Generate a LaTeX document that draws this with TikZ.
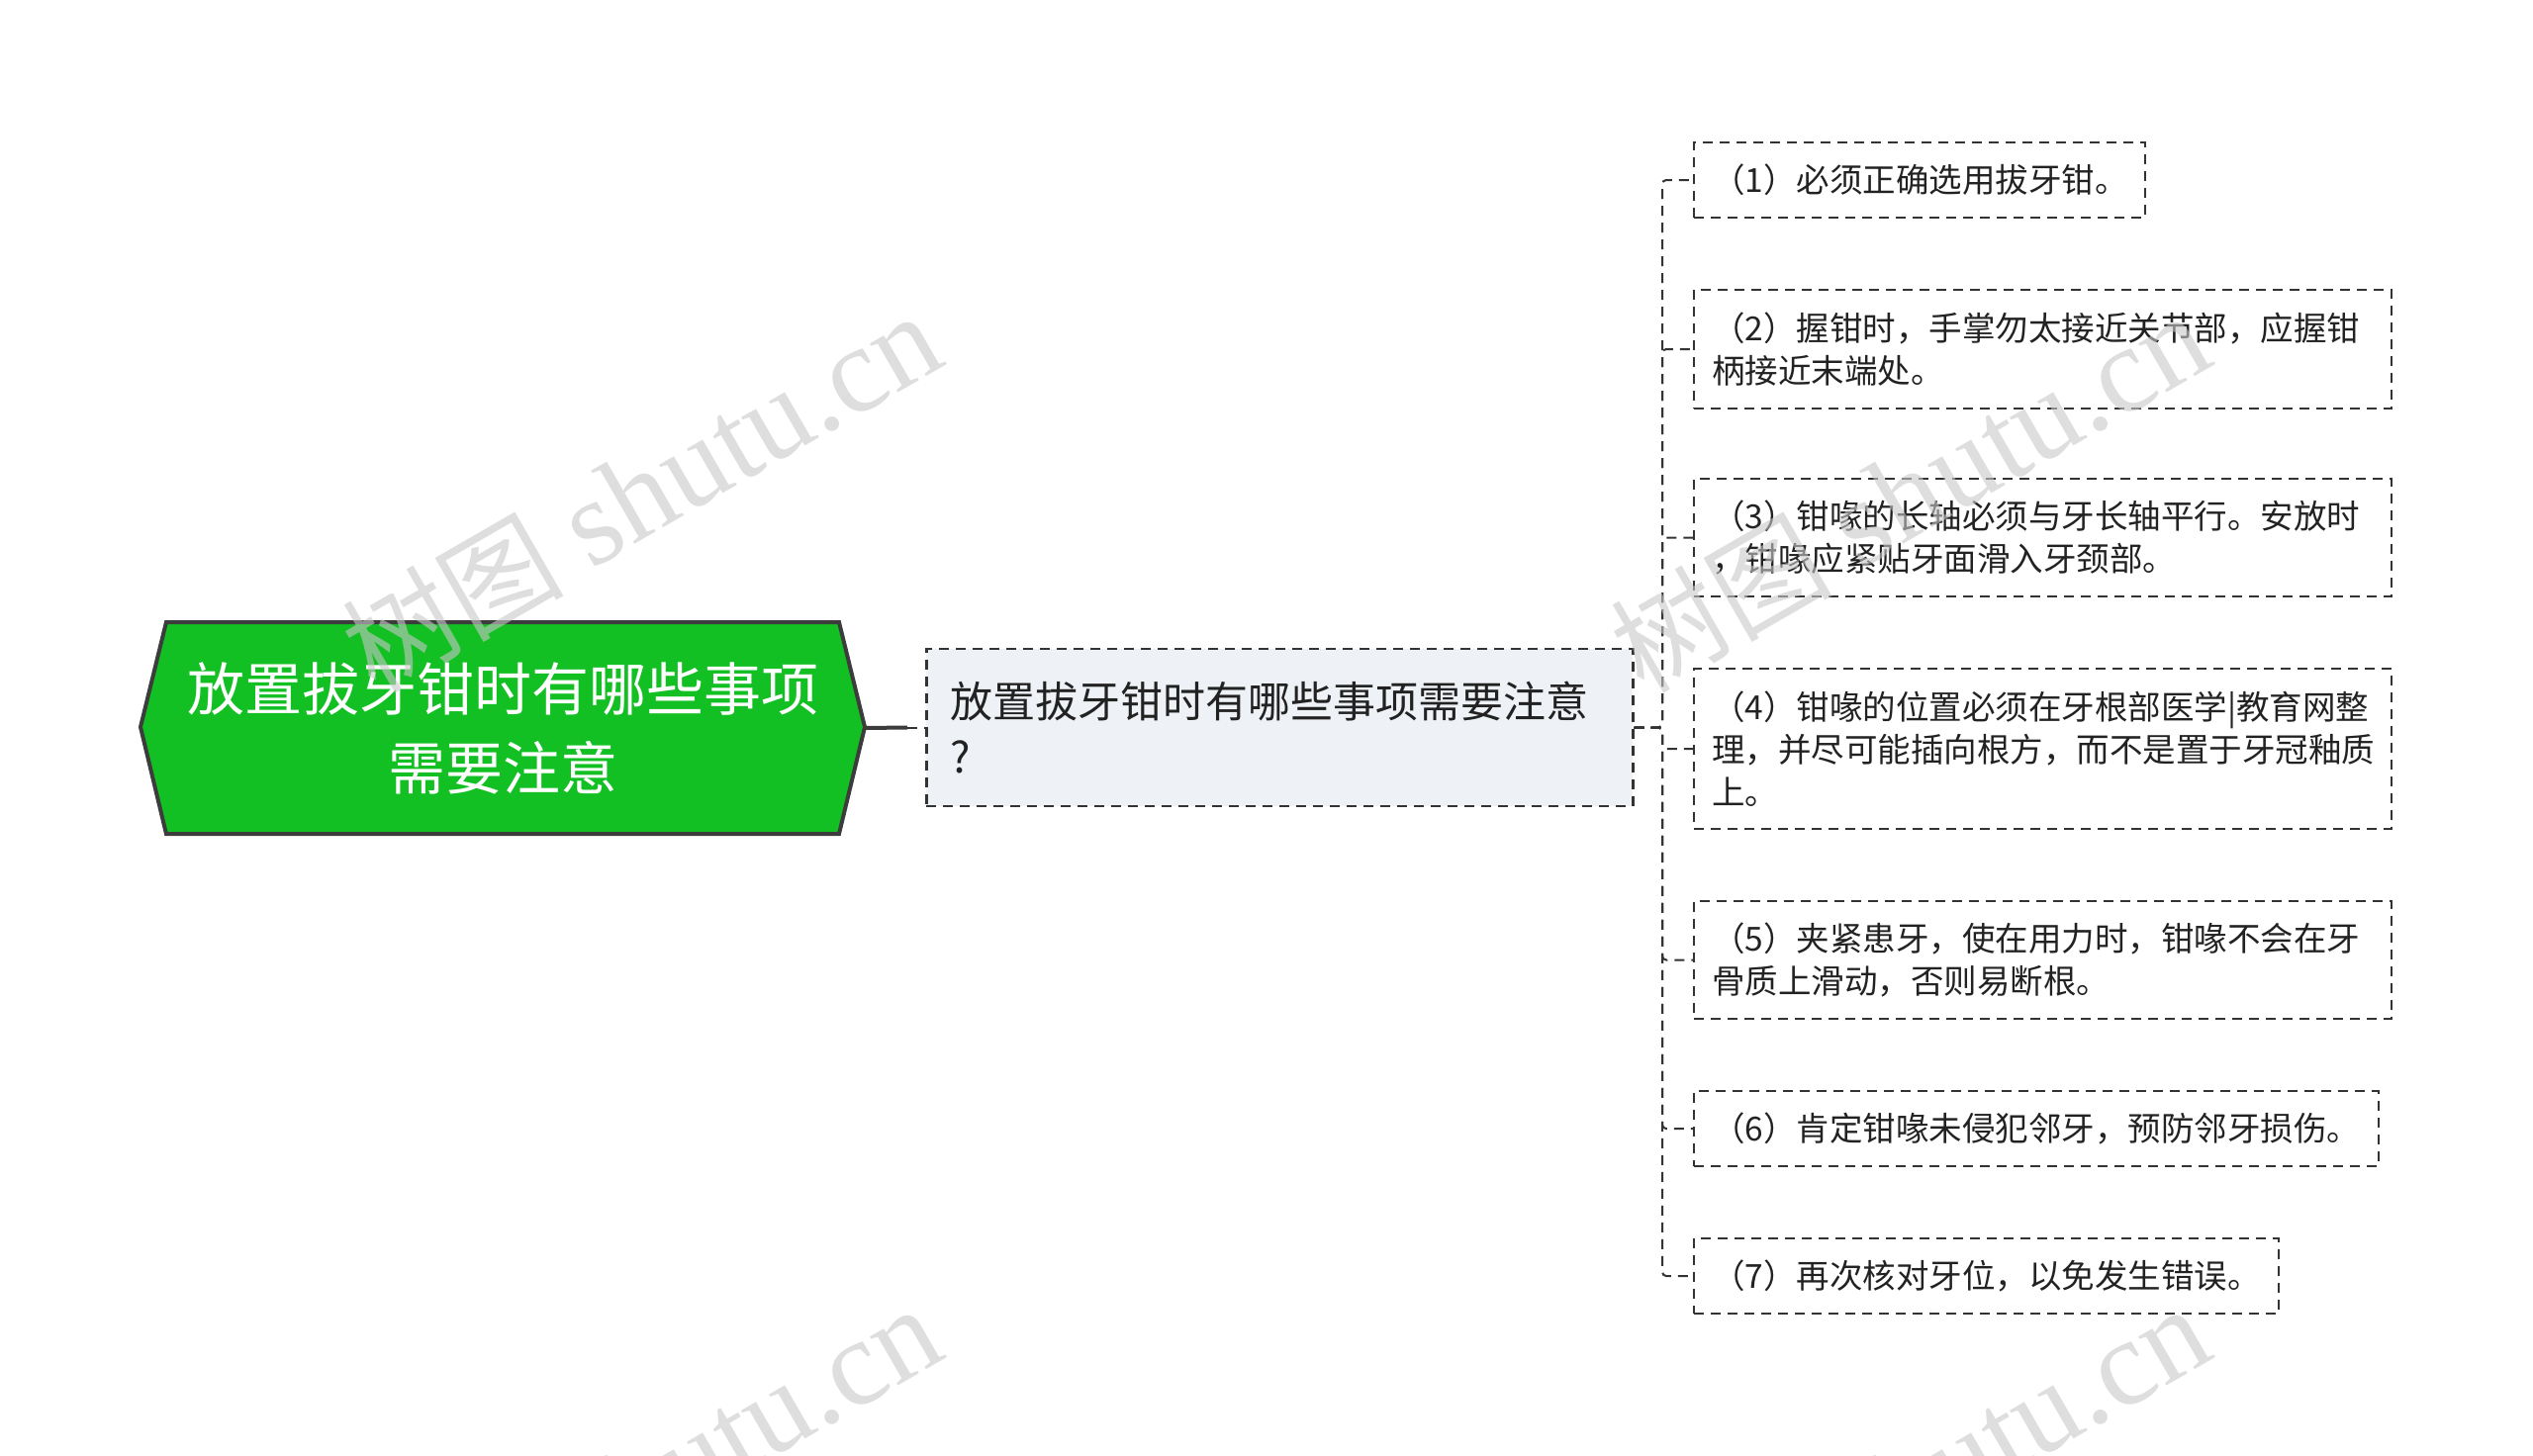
\documentclass[tikz,border=0pt]{standalone}
\usepackage{fontspec}
\setmainfont{Noto Sans CJK SC}
\newfontfamily\wmserif{Liberation Serif}
\newfontfamily\wmcjk{Noto Sans CJK SC}
\definecolor{rootgreen}{RGB}{19,192,35}
\definecolor{rootline}{RGB}{60,60,60}
\definecolor{midfill}{RGB}{238,241,245}
\definecolor{linec}{RGB}{51,51,51}
\definecolor{txt}{RGB}{34,34,34}
\definecolor{wm}{RGB}{200,200,200}
\tikzset{
  dsh/.style={line width=2pt, dash pattern=on 10pt off 7pt, draw=linec},
  conn/.style={dsh, rounded corners=4pt},
  leaf/.style={dsh, anchor=west, inner xsep=18pt, inner ysep=0pt, align=left,
    text=txt, font=\fontsize{33.5}{43}\selectfont},
  midbox/.style={dsh, line width=2.5pt, fill=midfill, anchor=west, inner xsep=24pt, inner ysep=0pt,
    align=left, text=txt, font=\fontsize{43}{56}\selectfont, text width=666pt, minimum height=159pt},
  rootbox/.style={minimum width=732pt, minimum height=214pt, inner sep=0pt, align=center,
    text=white, font=\fontsize{58}{80}\selectfont},
  wmtext/.style={text=wm, opacity=0.6, rotate=30, inner sep=0pt}
}
\begin{document}
\begin{tikzpicture}[x=1pt,y=-1pt]
\useasboundingbox (0,0) rectangle (2560,1472);
% root
\filldraw[fill=rootgreen, draw=rootline, line width=4pt, line join=miter]
  (168,629) -- (848,629) -- (874,735) -- (848,843) -- (168,843) -- (142,735) -- cycle;
\node[rootbox] (root) at (508,736) {放置拔牙钳时有哪些事项\\需要注意};
% middle
\node[midbox] (mid) at (935,735.5) {放置拔牙钳时有哪些事项需要注意\\?};
\coordinate (rj) at (917,735.5);
\coordinate (trunk) at (1680,735.5);
% leaves
\node[leaf, text width=420pt, minimum height=76pt] (c1) at (1711,182) {（1）必须正确选用拔牙钳。};
\node[leaf, text width=669pt, minimum height=120pt] (c2) at (1711,353) {（2）握钳时，手掌勿太接近关节部，应握钳\\柄接近末端处。};
\node[leaf, text width=669pt, minimum height=119pt] (c3) at (1711,543.5) {（3）钳喙的长轴必须与牙长轴平行。安放时\\，钳喙应紧贴牙面滑入牙颈部。};
\node[leaf, text width=669pt, minimum height=162pt] (c4) at (1711,757) {（4）钳喙的位置必须在牙根部医学|教育网整\\理，并尽可能插向根方，而不是置于牙冠釉质\\上。};
\node[leaf, text width=669pt, minimum height=119pt] (c5) at (1711,970.5) {（5）夹紧患牙，使在用力时，钳喙不会在牙\\骨质上滑动，否则易断根。};
\node[leaf, text width=656pt, minimum height=76pt] (c6) at (1711,1141) {（6）肯定钳喙未侵犯邻牙，预防邻牙损伤。};
\node[leaf, text width=555pt, minimum height=76pt] (c7) at (1711,1290) {（7）再次核对牙位，以免发生错误。};
% connectors
\draw[rootline, line width=4pt] (root.east) -- (rj);
\draw[dsh] (rj) -- (mid.west);
\foreach \c in {c1,c2,c3,c4,c5,c6,c7}{
  \draw[conn] (mid.east) -- (trunk) |- (\c.west);
}
% watermarks
\foreach \p in {(648,498),(1930,498),(648,1502),(1930,1502)}{
  \node[wmtext] at \p {{\wmcjk\fontsize{112}{112}\selectfont 树图}\hspace{28pt}{\wmserif\fontsize{124}{124}\selectfont shutu.cn}};
}
\end{tikzpicture}
\end{document}
